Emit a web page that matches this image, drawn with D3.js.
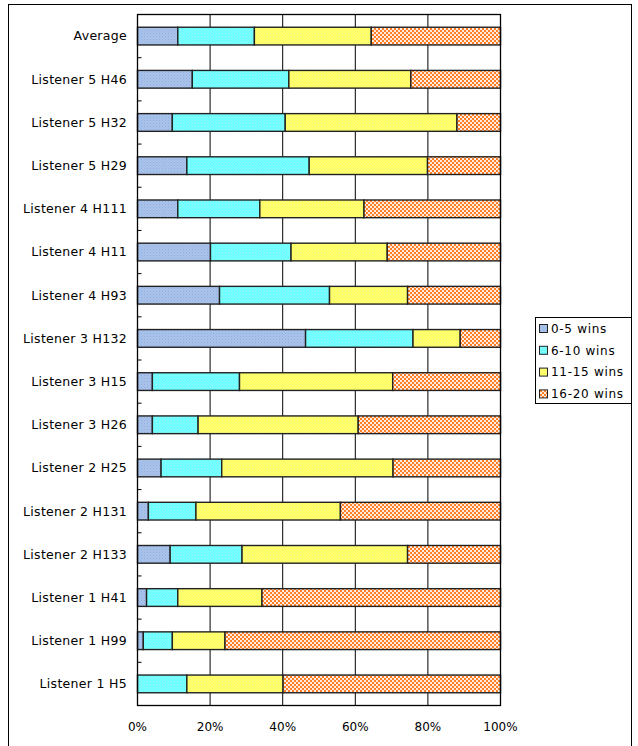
<!DOCTYPE html>
<html><head><meta charset="utf-8">
<script src="https://cdn.jsdelivr.net/npm/d3@7"></script>
<style>body{margin:0;background:#fff}svg{display:block}</style>
</head><body>
<script>
const categories = ["Average","Listener 5 H46","Listener 5 H32","Listener 5 H29","Listener 4 H111","Listener 4 H11","Listener 4 H93","Listener 3 H132","Listener 3 H15","Listener 3 H26","Listener 2 H25","Listener 2 H131","Listener 2 H133","Listener 1 H41","Listener 1 H99","Listener 1 H5"];
const seriesNames = ["0-5 wins","6-10 wins","11-15 wins","16-20 wins"];
const wins0to5   = [11.1,15.1, 9.6,13.6,11.1,20.1,22.6,46.3, 4.1, 4.1, 6.5, 3.0, 9.0, 2.5, 1.6, 0.0];
const wins6to10  = [21.1,26.6,31.1,33.7,22.6,22.2,30.3,29.6,24.0,12.6,16.7,13.1,19.8, 8.6, 8.0,13.6];
const wins11to15 = [32.2,33.6,47.3,32.6,28.7,26.5,21.5,13.0,42.2,44.1,47.2,39.8,45.6,23.2,14.5,26.5];
const wins16to20 = [35.6,24.7,12.0,20.1,37.6,31.2,25.6,11.1,29.7,39.2,29.6,44.1,25.6,65.7,75.9,59.9];
const tickValues = [0,0.2,0.4,0.6,0.8,1.0];

const W=638,H=746;
const svg=d3.select("body").append("svg").attr("width",W).attr("height",H);
const defs=svg.append("defs");
function dotPattern(id,base,dot){
  const p=defs.append("pattern").attr("id",id).attr("width",3).attr("height",3).attr("patternUnits","userSpaceOnUse");
  p.append("rect").attr("width",3).attr("height",3).attr("fill",base);
  p.append("rect").attr("width",1).attr("height",1).attr("fill",dot);
  p.append("rect").attr("x",1.5).attr("y",1.5).attr("width",1).attr("height",1).attr("fill",dot).attr("opacity",0.6);
}
dotPattern("p0","#A9C3EB","#8FAEDD");
dotPattern("p1","#6CFFFF","#9FF3F3");
dotPattern("p2","#FFFF66","#F2F28A");
const pc=defs.append("pattern").attr("id","p3").attr("width",4).attr("height",4).attr("patternUnits","userSpaceOnUse");
pc.append("rect").attr("width",4).attr("height",4).attr("fill","#FF7F27");
pc.append("rect").attr("width",2).attr("height",2).attr("fill","#FFFFFF").attr("opacity",0.85);
pc.append("rect").attr("x",2).attr("y",2).attr("width",2).attr("height",2).attr("fill","#FFFFFF").attr("opacity",0.85);
const fills=["url(#p0)","url(#p1)","url(#p2)","url(#p3)"];

const font="'DejaVu Sans', sans-serif";
// outer border
svg.append("rect").attr("x",8.5).attr("y",4.5).attr("width",623).attr("height",760).attr("fill","none").attr("stroke","#000").attr("stroke-width",1);

const x=d3.scaleLinear().domain([0,1]).range([137.5,500.5]);
const y=d3.scaleBand().domain(categories).range([14.5,705.5]).paddingInner(0.59).paddingOuter(0.295);

// gridlines
svg.append("g").selectAll("line").data(tickValues.slice(1,-1)).join("line")
  .attr("x1",d=>x(d)).attr("x2",d=>x(d)).attr("y1",14.5).attr("y2",705.5)
  .attr("stroke","#000").attr("stroke-width",1);

const data=[wins0to5,wins6to10,wins11to15,wins16to20];
const rows=categories.map((c,i)=>{const v=data.map(a=>a[i]);const t=d3.sum(v);return {c,v:v.map(d=>d/t)};});
const stack=d3.stack().keys([0,1,2,3]).value((d,k)=>d.v[k]);
const series=stack(rows);
series.forEach((s,k)=>{
  svg.append("g").selectAll("rect").data(s).join("rect")
    .attr("x",d=>x(d[0])).attr("width",d=>Math.max(0,x(d[1])-x(d[0])))
    .attr("y",d=>y(d.data.c)).attr("height",y.bandwidth())
    .attr("fill",fills[k]).attr("stroke",d=>(d[1]-d[0])>0?"#222":"none").attr("stroke-width",1.4);
});

// plot border
svg.append("rect").attr("x",137.5).attr("y",14.5).attr("width",363).attr("height",691).attr("fill","none").attr("stroke","#000").attr("stroke-width",1.3);

// category ticks
const step=y.step();
svg.append("g").selectAll("line").data(d3.range(1,categories.length)).join("line")
  .attr("x1",137.5).attr("x2",141.5).attr("y1",d=>14.5+d*step).attr("y2",d=>14.5+d*step).attr("stroke","#000");

// y labels
svg.append("g").selectAll("text").data(categories).join("text")
  .attr("x",127).attr("y",d=>y(d)+y.bandwidth()/2).attr("dy","0.35em")
  .attr("text-anchor","end").attr("font-family",font).attr("font-size",12.5).attr("letter-spacing",0.3).attr("fill","#000").text(d=>d);

// x axis labels
svg.append("g").selectAll("text").data(tickValues).join("text")
  .attr("x",d=>x(d)).attr("y",727).attr("dy","0.35em").attr("text-anchor","middle")
  .attr("font-family",font).attr("font-size",12).attr("fill","#000").text(d=>d3.format(".0%")(d));

// legend
const lg=svg.append("g");
lg.append("rect").attr("x",535.5).attr("y",317.5).attr("width",96).attr("height",86).attr("fill","#fff").attr("stroke","#000");
seriesNames.forEach((n,i)=>{
  const yy=328.5+i*21.8;
  lg.append("rect").attr("x",539.5).attr("y",yy-4).attr("width",8).attr("height",8).attr("fill",fills[i]).attr("stroke","#222");
  lg.append("text").attr("x",551).attr("y",yy).attr("dy","0.35em").attr("font-family",font).attr("font-size",12).attr("letter-spacing",0.7).text(n);
});
</script>
</body></html>
